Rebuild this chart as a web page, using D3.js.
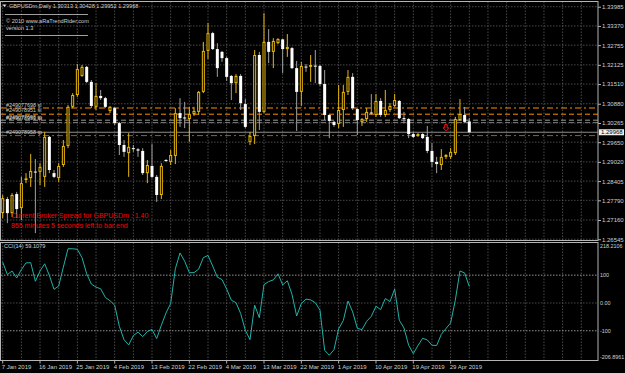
<!DOCTYPE html>
<html>
<head>
<meta charset="utf-8">
<script src="https://cdnjs.cloudflare.com/ajax/libs/d3/7.8.5/d3.min.js"></script>
<style>
  body { margin: 0; background: #000; }
  svg { display: block; }
  text { font-family: "Liberation Sans", Arial, sans-serif; }
</style>
</head>
<body>
<div id="chart-area"></div>
<script>
/* GBPUSDm daily candles, one entry per bar (bar 0 = 7 Jan 2019) */
var opens = [1.2738,1.2783,1.2738,1.2799,1.2754,1.2846,1.2850,1.2871,1.2870,1.2854,
  1.2982,1.2866,1.2850,1.2892,1.2953,1.3078,1.3116,1.3177,1.3206,1.3158,
  1.3078,1.3113,1.3106,1.3065,1.3074,1.3026,1.2956,1.2930,1.2946,1.2942,
  1.2937,1.2866,1.2889,1.2854,1.2796,1.2908,1.2902,1.2921,1.3058,1.3044,
  1.3039,1.3055,1.3062,1.3126,1.3257,1.3314,1.3263,1.3254,1.3234,1.3177,
  1.3154,1.3177,1.3087,1.2966,1.2985,1.3244,1.3062,1.3286,1.3254,1.3282,
  1.3294,1.3263,1.3266,1.3202,1.3126,1.3207,1.3206,1.3210,1.3209,1.3151,
  1.3052,1.3030,1.3023,1.3068,1.3126,1.3174,1.3071,1.3030,1.3039,1.3060,
  1.3052,1.3097,1.3052,1.3068,1.3081,1.3097,1.3042,1.3039,1.2991,1.2985,
  1.2991,1.2982,1.2937,1.2902,1.2892,1.2918,1.2918,1.2930,1.3036,1.3052,
  1.30313];
var highs = [1.2796,1.2790,1.2802,1.2806,1.2854,1.2866,1.2927,1.2911,1.2898,1.2998,
  1.2985,1.2876,1.2898,1.2972,1.3084,1.3122,1.3215,1.3212,1.3209,1.3164,
  1.3154,1.3132,1.3110,1.3081,1.3078,1.3030,1.2972,1.2994,1.2956,1.2946,
  1.2946,1.2908,1.2959,1.2860,1.2898,1.2911,1.2940,1.3074,1.3106,1.3094,
  1.3078,1.3078,1.3129,1.3286,1.3346,1.3318,1.3282,1.3257,1.3238,1.3180,
  1.3183,1.3183,1.3103,1.2998,1.3260,1.3254,1.3378,1.3327,1.3298,1.3298,
  1.3295,1.3311,1.3270,1.3225,1.3222,1.3215,1.3244,1.3260,1.3212,1.3196,
  1.3055,1.3033,1.3148,1.3148,1.3196,1.3186,1.3074,1.3042,1.3074,1.3119,
  1.3119,1.3106,1.3132,1.3090,1.3119,1.3100,1.3062,1.3042,1.2998,1.2994,
  1.2994,1.3017,1.2962,1.2918,1.2943,1.2927,1.2946,1.3046,1.3103,1.3078,
  1.30428];
var lows = [1.2722,1.2706,1.2726,1.2722,1.2716,1.2834,1.2822,1.2674,1.2828,1.2822,
  1.2866,1.2850,1.2838,1.2886,1.2946,1.3074,1.3110,1.3174,1.3154,1.3074,
  1.3068,1.3100,1.3074,1.3058,1.3020,1.2924,1.2918,1.2854,1.2934,1.2918,
  1.2860,1.2834,1.2850,1.2774,1.2783,1.2902,1.2892,1.2895,1.3014,1.3010,
  1.2966,1.3049,1.3052,1.3122,1.3231,1.3260,1.3174,1.3222,1.3161,1.3100,
  1.3122,1.3068,1.3010,1.2956,1.2959,1.3004,1.3058,1.3218,1.3202,1.3279,
  1.3186,1.3238,1.3199,1.3001,1.3081,1.3190,1.3158,1.3154,1.3145,1.3036,
  1.2978,1.3014,1.3010,1.3014,1.3116,1.3068,1.2988,1.3017,1.3030,1.3052,
  1.3046,1.3046,1.3046,1.3062,1.3078,1.3039,1.3026,1.2978,1.2978,1.2982,
  1.2975,1.2930,1.2886,1.2866,1.2876,1.2911,1.2911,1.2924,1.3033,1.3026,
  1.29952];
var closes = [1.2786,1.2738,1.2796,1.2751,1.2834,1.2849,1.2873,1.2868,1.2886,1.2982,
  1.2876,1.2854,1.2889,1.2953,1.3078,1.3116,1.3199,1.3206,1.3158,1.3081,
  1.3113,1.3106,1.3078,1.3078,1.3026,1.2956,1.2934,1.2950,1.2943,1.2938,
  1.2866,1.2892,1.2854,1.2796,1.2889,1.2905,1.2924,1.3058,1.3042,1.3041,
  1.3055,1.3065,1.3126,1.3257,1.3314,1.3263,1.3202,1.3234,1.3174,1.3154,
  1.3177,1.3090,1.3014,1.2985,1.3244,1.3062,1.3286,1.3254,1.3289,1.3295,
  1.3263,1.3270,1.3202,1.3126,1.3209,1.3204,1.3212,1.3207,1.3151,1.3052,
  1.3033,1.3020,1.3068,1.3126,1.3174,1.3074,1.3036,1.3039,1.3062,1.3057,
  1.3097,1.3052,1.3068,1.3081,1.3100,1.3042,1.3039,1.2991,1.2982,1.2991,
  1.2978,1.2937,1.2902,1.2895,1.2918,1.2924,1.2934,1.3039,1.3055,1.3030,
  1.29968];

/* CCI(14), one value per bar */
var cciValues = [147,102,115,90,120,144,145,78,115,141,
  99,49,61,129,195,195,193,163,105,68,
  57,51,20,8,-8,-84,-132,-151,-117,-105,
  -121,-103,-95,-128,-80,-36,-2,123,180,150,
  109,109,122,163,171,133,93,84,50,10,
  1,-38,-98,-132,-8,-53,66,77,83,105,
  65,80,31,-47,-2,14,11,1,-26,-170,
  -188,-168,-93,-63,7,-32,-91,-96,-66,-48,
  -12,-24,16,5,50,-62,-90,-152,-182,-153,
  -127,-133,-152,-153,-113,-92,-72,10,115,108,
  59.1079];

/* axis ticks */
var priceTicks = [1.33985,1.33370,1.32755,1.32125,1.31510,1.30880,1.30265,
  1.29650,1.29020,1.28405,1.27790,1.27160,1.26545];
var cciTicks = [218.2106, 100, 0, -100, -206.8961];
var cciTickLabels = ["218.2106", "100", "0.00", "-100", "-206.8961"];
var dateTicks = ["7 Jan 2019","16 Jan 2019","25 Jan 2019","4 Feb 2019","13 Feb 2019",
  "22 Feb 2019","4 Mar 2019","13 Mar 2019","22 Mar 2019","1 Apr 2019",
  "10 Apr 2019","19 Apr 2019","29 Apr 2019"];
var dateTickBars = [0,8,16,24,32,40,48,56,64,72,80,88,96];

/* order lines drawn on the chart */
var orderPrices = [1.30744, 1.30546, 1.30354, 1.30277, 1.29861];
var orderNames = ["#249077698 sl", "#249078951 sl", "#249077698 tp", "#249078951 tp", "#249078958 tp"];
var bidPrice = 1.29968;
var signalBars = [95];
var signalPrices = [1.3011];

/* layout */
var width = 625, height = 373;
var plotRight = 598;
var mainTop = 1.5, mainBottom = 240.5;
var subTop = 242.5, subBottom = 360.5;

var svg = d3.select("#chart-area").append("svg")
  .attr("width", width)
  .attr("height", height)
  .style("background", "#000");

var x = d3.scaleLinear().domain([0, 100]).range([2.7, 469.3]);
var y = d3.scaleLinear().domain([1.26504, 1.34152]).range([mainBottom, mainTop]);
var yc = d3.scaleLinear().domain([-206.8961, 218.2106]).range([subBottom, 242.3]);

var gridColor = "#5c5c5c";
var textColor = "#d0d0d0";
var yellow = "#e8b80c";

/* grid */
var grid = svg.append("g");
grid.selectAll(".hg").data(priceTicks).enter().append("line")
  .attr("x1", 1).attr("x2", plotRight)
  .attr("y1", d => y(d)).attr("y2", d => y(d))
  .attr("stroke", gridColor).attr("stroke-width", 0.8).attr("stroke-dasharray", "1.5,1.5");

var vBars = d3.range(0, 125, 4);
[[mainTop, mainBottom], [subTop, subBottom]].forEach(function(p) {
  grid.selectAll(null).data(vBars).enter().append("line")
    .attr("x1", d => x(d)).attr("x2", d => x(d))
    .attr("y1", p[0]).attr("y2", p[1])
    .attr("stroke", gridColor).attr("stroke-width", 0.8).attr("stroke-dasharray", "1.5,1.5");
});

/* cci levels */
grid.selectAll(".cl").data(cciTicks.slice(1, 4)).enter().append("line")
  .attr("x1", 1).attr("x2", plotRight)
  .attr("y1", d => yc(d)).attr("y2", d => yc(d))
  .attr("stroke", d => d === 0 ? gridColor : "#b8b8b8")
  .attr("stroke-width", 0.8).attr("stroke-dasharray", "1.5,1.5");

/* order lines */
var orderStyles = [
  { color: "#ff8c00", dash: "6,3,2,3" },
  { color: "#ff8c00", dash: "5,3" },
  { color: "#9a9a9a", dash: "5,3" },
  { color: "#7a7a7a", dash: "5,3" },
  { color: "#a85a10", dash: "6,3,2,3" }
];
svg.append("g").selectAll("line").data(orderPrices).enter().append("line")
  .attr("x1", 1).attr("x2", plotRight)
  .attr("y1", d => y(d)).attr("y2", d => y(d))
  .attr("stroke", (d, i) => orderStyles[i].color)
  .attr("stroke-width", 1)
  .attr("stroke-dasharray", (d, i) => orderStyles[i].dash);

/* bid line */
svg.append("line")
  .attr("x1", 1).attr("x2", plotRight)
  .attr("y1", y(bidPrice)).attr("y2", y(bidPrice))
  .attr("stroke", "#8c8c8c").attr("stroke-width", 1);

/* candles */
var bars = d3.range(opens.length);
var cg = svg.append("g");
cg.selectAll(".wick").data(bars).enter().append("line")
  .attr("x1", i => x(i)).attr("x2", i => x(i))
  .attr("y1", i => y(highs[i])).attr("y2", i => y(lows[i]))
  .attr("stroke", i => closes[i] >= opens[i] ? yellow : "#a0a0a0")
  .attr("stroke-width", 1);

cg.selectAll(".body").data(bars).enter().append("rect")
  .attr("x", i => closes[i] >= opens[i] ? x(i) - 1 : x(i) - 1.5)
  .attr("width", i => closes[i] >= opens[i] ? 2 : 3)
  .attr("y", function(i) {
    var t = y(Math.max(opens[i], closes[i]));
    return closes[i] >= opens[i] ? t + 0.5 : t;
  })
  .attr("height", function(i) {
    var h = y(Math.min(opens[i], closes[i])) - y(Math.max(opens[i], closes[i]));
    return closes[i] >= opens[i] ? Math.max(h - 1, 0.6) : Math.max(h, 1);
  })
  .attr("fill", i => closes[i] >= opens[i] ? "#000" : "#fff")
  .attr("stroke", i => closes[i] >= opens[i] ? yellow : "none")
  .attr("stroke-width", 1);

/* signal arrow */
svg.selectAll(".sig").data(signalBars).enter().append("path")
  .attr("transform", (d, i) => "translate(" + x(d) + "," + y(signalPrices[i]) + ")")
  .attr("d", "M-1.2,-3.2 L1.2,-3.2 L1.2,0 L2.8,0 L0,3 L-2.8,0 L-1.2,0 Z")
  .attr("fill", "none").attr("stroke", "#ff1010").attr("stroke-width", 1);

/* CCI line */
var cciLine = d3.line().x((d, i) => x(i)).y(d => yc(d));
svg.append("path").datum(cciValues)
  .attr("d", cciLine)
  .attr("fill", "none").attr("stroke", "#20b2aa").attr("stroke-width", 1);

/* panel borders */
svg.append("rect").attr("x", 0.5).attr("y", mainTop).attr("width", plotRight - 0.5).attr("height", mainBottom - mainTop)
  .attr("fill", "none").attr("stroke", "#b4b4b4").attr("stroke-width", 1);
svg.append("rect").attr("x", 0.5).attr("y", subTop).attr("width", plotRight - 0.5).attr("height", subBottom - subTop)
  .attr("fill", "none").attr("stroke", "#b4b4b4").attr("stroke-width", 1);

/* price axis */
var yAxis = d3.axisRight(y).tickValues(priceTicks).tickFormat(d3.format(".5f")).tickSize(3).tickPadding(1);
var ya = svg.append("g").attr("transform", "translate(" + plotRight + ",0)").call(yAxis);
ya.select(".domain").remove();
ya.selectAll("line").attr("stroke", "#b4b4b4");
ya.selectAll("text").attr("fill", textColor).attr("font-size", "6px").attr("font-family", "Liberation Sans, Arial");

/* current price box */
svg.append("rect").attr("x", 599).attr("y", y(bidPrice) - 3).attr("width", 25).attr("height", 6).attr("fill", "#f0f0f0");
svg.append("text").attr("x", 601).attr("y", y(bidPrice) + 2).attr("font-size", "6px").attr("fill", "#000").text(d3.format(".5f")(bidPrice));

/* cci axis */
svg.append("g").selectAll("text").data(cciTicks).enter().append("text")
  .attr("x", 600)
  .attr("y", function(d, i) {
    if (i === 0) return yc(d) + 6;
    if (i === cciTicks.length - 1) return yc(d) - 1.5;
    return yc(d) + 2;
  })
  .attr("font-size", "5.4px").attr("fill", textColor)
  .text((d, i) => cciTickLabels[i]);

/* date axis */
var dg = svg.append("g");
dg.selectAll("text").data(dateTickBars).enter().append("text")
  .attr("x", d => x(d) - 1).attr("y", 369)
  .attr("font-size", "6px").attr("fill", textColor)
  .text((d, i) => dateTicks[i]);
dg.selectAll("line").data(dateTickBars).enter().append("line")
  .attr("x1", d => x(d)).attr("x2", d => x(d))
  .attr("y1", subBottom).attr("y2", subBottom + 3)
  .attr("stroke", "#b4b4b4");

/* header texts */
svg.append("path").attr("d", "M2.5,4.5 L6.5,4.5 L4.5,7 Z").attr("fill", "#e0e0e0");
svg.append("text").attr("x", 9).attr("y", 7.8).attr("font-size", "5.6px").attr("fill", textColor)
  .text("GBPUSDm,Daily  1.30313 1.30428 1.29952 1.29968");
svg.append("line").attr("x1", 5).attr("x2", 88).attr("y1", 14.5).attr("y2", 14.5).attr("stroke", "#c8c8c8").attr("stroke-width", 0.8);
svg.append("text").attr("x", 6).attr("y", 22.8).attr("font-size", "5.6px").attr("fill", textColor)
  .text("\u00a9 2010 www.aRaTrendRider.com");
svg.append("text").attr("x", 6).attr("y", 29.8).attr("font-size", "5.6px").attr("fill", textColor)
  .text("version 1.3");
svg.append("line").attr("x1", 5).attr("x2", 88).attr("y1", 35.5).attr("y2", 35.5).attr("stroke", "#c8c8c8").attr("stroke-width", 0.8);

/* order line labels */
var labelOffsets = [-1.2, -2.5, -1, -2.6, -1.8];
svg.append("g").selectAll("text").data(orderPrices).enter().append("text")
  .attr("x", 6).attr("y", (d, i) => y(d) + labelOffsets[i])
  .attr("font-size", "5.4px").attr("fill", "#c8c8c8")
  .text((d, i) => orderNames[i]);

/* spread info */
svg.append("text").attr("x", 11).attr("y", 218.2).attr("font-size", "7px").attr("fill", "#ff0000")
  .text("Current Broker Spread for GBPUSDm : 1.40");
svg.append("text").attr("x", 11).attr("y", 227.6).attr("font-size", "7px").attr("fill", "#ff0000")
  .text("855 minutes 5 seconds left to bar end");

/* cci title */
svg.append("text").attr("x", 4).attr("y", 248.2).attr("font-size", "5.6px").attr("fill", textColor)
  .text("CCI(14) " + cciValues[cciValues.length - 1].toFixed(4));
</script>
</body>
</html>
